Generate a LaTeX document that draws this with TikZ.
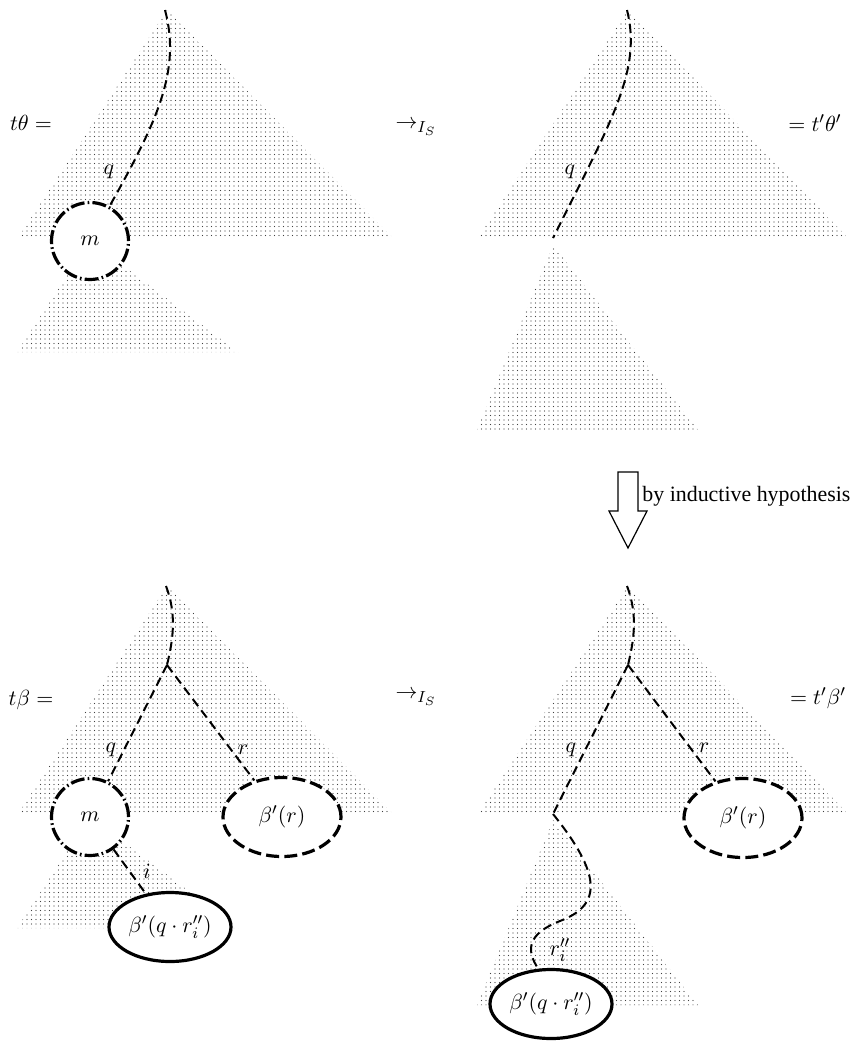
\documentclass[tikz,border=0pt]{standalone}
\usepackage{fontspec}
\newfontfamily\notefont{Liberation Serif}
\usetikzlibrary{patterns,shapes.geometric}

% fine square grid of dots used to shade the trees
\pgfdeclarepatternformonly{finedots}{\pgfqpoint{-0.5pt}{-0.5pt}}{\pgfqpoint{0.5pt}{0.5pt}}{\pgfqpoint{2.25pt}{2.25pt}}{%
  \pgfpathcircle{\pgfqpoint{0pt}{0pt}}{0.36pt}\pgfusepath{fill}}

\tikzset{
  tree/.style={pattern=finedots, pattern color=black!75},
  pathline/.style={line width=1pt, dash pattern=on 4.5pt off 2.6pt},
  mcircle/.style={circle, draw, fill=white, line width=1.6pt,
    dash pattern=on 7pt off 1.6pt on 0.8pt off 1.6pt, minimum size=38.5pt, inner sep=0pt},
  dashell/.style={ellipse, draw, fill=white, line width=1.6pt,
    dash pattern=on 6.5pt off 2.6pt, minimum width=59pt, minimum height=39.5pt, inner sep=0pt},
  solidell/.style={ellipse, draw, fill=white, line width=1.6pt,
    minimum width=61pt, minimum height=34.5pt, inner sep=0pt},
  lbl/.style={inner sep=0pt},
  bigarrow/.style={draw, line width=0.6pt, fill=white, line join=miter}
}

\begin{document}
\begin{tikzpicture}[x=0.5pt,y=-0.5pt,font=\fontsize{10.95}{13}\selectfont]
\useasboundingbox (0,0) rectangle (851,1050);

% ---------------- top left: t theta ----------------
\fill[tree] (167,10) -- (393,238) -- (18,238) -- cycle;
\fill[tree] (90,241) -- (238,352) -- (17,352) -- cycle;
\node[mcircle] (m1) at (90,241) {$m$};
\coordinate (tlroot) at (165,10);
\draw[pathline] (tlroot) .. controls (181,70) and (158,120) .. (m1);
\node[lbl] (tlq) at (109,172) {$q$};
\node[lbl] (tleq) at (31,123) {$t\theta =$};

\node[lbl] (toparrow) at (416,128) {$\rightarrow_{I_S}$};

% ---------------- top right: t' theta' ----------------
\fill[tree] (628,10) -- (848,238) -- (478,238) -- cycle;
\fill[tree] (553,245) -- (698,430) -- (477,430) -- cycle;
\coordinate (trroot) at (627,10);
\coordinate (trleaf) at (553,238);
\draw[pathline] (trroot) .. controls (642,70) and (612,120) .. (trleaf);
\node[lbl] (trq) at (570,172) {$q$};
\node[lbl] (treq) at (815,123) {$= t'\theta'$};

% ---------------- inductive step arrow ----------------
\draw[bigarrow] (618,472) -- (638,472) -- (638,511) -- (647,511) -- (628,548)
  -- (609,511) -- (618,511) -- cycle;
\node[lbl, anchor=west] (ih) at (642,496) {\notefont by inductive hypothesis};

% ---------------- bottom left: t beta ----------------
\fill[tree] (167,586) -- (393,814) -- (18,814) -- cycle;
\fill[tree] (90,817) -- (238,928) -- (17,928) -- cycle;
\node[mcircle] (m2) at (90,817) {$m$};
\node[dashell] (br2) at (282,817) {$\beta'(r)$};
\node[solidell] (bq2) at (170,927) {$\beta'(q\cdot r_i'')$};
\coordinate (blroot) at (166,586);
\coordinate (blfork) at (167,665);
\draw[pathline] (blroot) .. controls (177,615) and (173,640) .. (blfork);
\draw[pathline] (blfork) -- (m2);
\draw[pathline] (blfork) -- (br2);
\draw[pathline] (m2) -- (bq2);
\node[lbl] (blq) at (111,750) {$q$};
\node[lbl] (blr) at (243,750) {$r$};
\node[lbl] (bli) at (147,871) {$i$};
\node[lbl] (bleq) at (31,700) {$t\beta =$};

\node[lbl] (botarrow) at (416,698) {$\rightarrow_{I_S}$};

% ---------------- bottom right: t' beta' ----------------
\fill[tree] (628,586) -- (848,814) -- (478,814) -- cycle;
\fill[tree] (553,820) -- (698,1005) -- (477,1005) -- cycle;
\node[dashell] (br3) at (743,818) {$\beta'(r)$};
\node[solidell] (bq3) at (551,1004) {$\beta'(q\cdot r_i'')$};
\coordinate (brroot) at (627,586);
\coordinate (brfork) at (628,665);
\coordinate (brleaf) at (553,814);
\draw[pathline] (brroot) .. controls (638,615) and (634,640) .. (brfork);
\draw[pathline] (brfork) -- (brleaf);
\draw[pathline] (brfork) -- (br3);
\draw[pathline] (brleaf) .. controls (602,875) and (602,905) .. (560,921)
  .. controls (527,934) and (526,950) .. (bq3.110);
\node[lbl] (brq) at (571,750) {$q$};
\node[lbl] (brr) at (704,748) {$r$};
\node[lbl] (brri) at (560,950) {$r_i''$};
\node[lbl] (breq) at (818,698) {$= t'\beta'$};
\end{tikzpicture}
\end{document}
